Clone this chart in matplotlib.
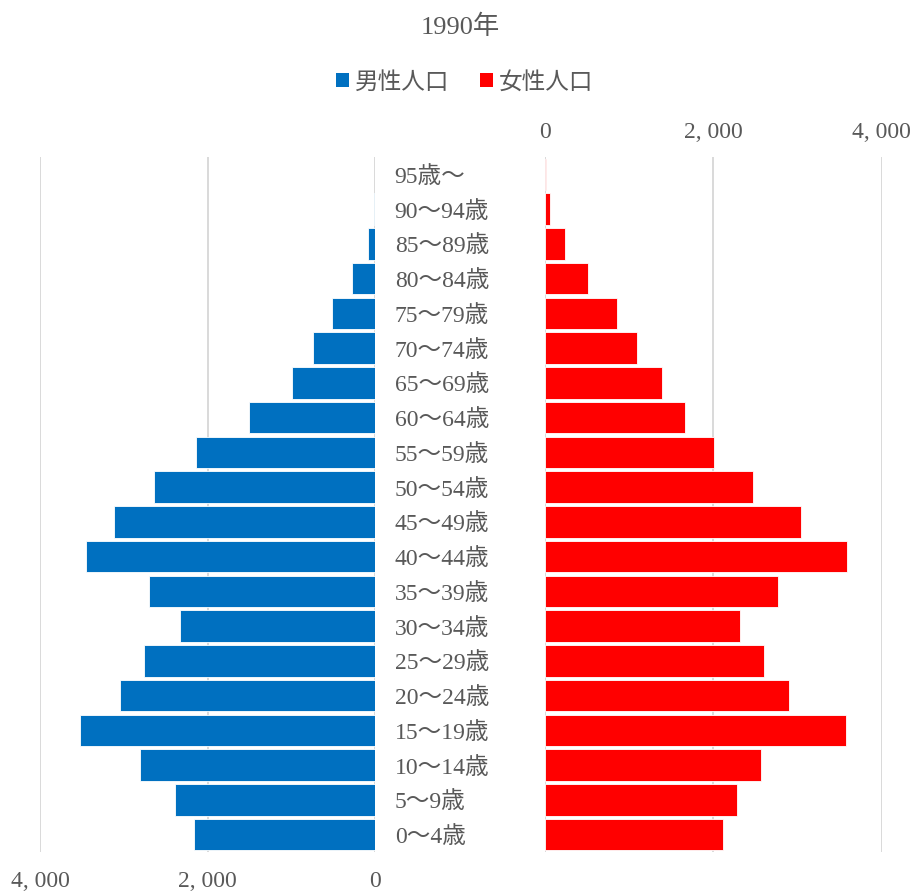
import matplotlib
matplotlib.use("Agg")
import matplotlib.pyplot as plt
from matplotlib.patches import Patch

plt.rcParams['font.family'] = ['Noto Sans CJK JP', 'DejaVu Sans']
SERIF = ['Liberation Serif', 'Noto Sans CJK JP', 'DejaVu Sans']

# Data (thousands of people), youngest first
age_groups = ["0～4歳", "5～9歳", "10～14歳", "15～19歳", "20～24歳", "25～29歳",
              "30～34歳", "35～39歳", "40～44歳", "45～49歳", "50～54歳", "55～59歳",
              "60～64歳", "65～69歳", "70～74歳", "75～79歳", "80～84歳", "85～89歳",
              "90～94歳", "95歳～"]
male = [2167, 2390, 2808, 3525, 3051, 2756, 2330, 2696, 3449, 3123, 2645, 2135,
        1509, 999, 741, 521, 275, 87, 12, 2]
female = [2111, 2281, 2566, 3576, 2899, 2602, 2317, 2772, 3584, 3038, 2471, 2004,
          1663, 1390, 1089, 855, 511, 234, 59, 8]
tick_vals = [0, 2000, 4000]
tick_labels = ["0", "2, 000", "4, 000"]
title = "1990年"
series_names = ["男性人口", "女性人口"]

blue = "#0070C0"
red = "#FF0000"
txt = "#595959"
grid = "#D9D9D9"

W, H = 916, 892
fig = plt.figure(figsize=(W / 100, H / 100), dpi=100)

top_px, bot_px = 157, 852
axL = fig.add_axes([40 / W, 1 - bot_px / H, (375.3 - 40) / W, (bot_px - top_px) / H])
axR = fig.add_axes([545 / W, 1 - bot_px / H, (881.7 - 545) / W, (bot_px - top_px) / H])

y = list(range(len(age_groups)))
axL.barh(y, male, height=0.9, color=blue, edgecolor="white", linewidth=0.6, zorder=3)
axR.barh(y, female, height=0.9, color=red, edgecolor="white", linewidth=0.6, zorder=3)

for ax in (axL, axR):
    ax.set_ylim(-0.5, len(age_groups) - 0.5)
    for s in ax.spines.values():
        s.set_visible(False)
    ax.set_xticks(tick_vals)
    ax.set_xticklabels(tick_labels, family=SERIF)
    ax.grid(axis="x", color=grid, linewidth=1.4, zorder=0)
    ax.tick_params(axis="x", length=0, labelsize=17, labelcolor=txt, pad=14)

axL.set_xlim(4000, 0)
axR.set_xlim(0, 4000)
axR.xaxis.tick_top()
axR.tick_params(axis="x", pad=10)
axR.set_yticks([])

axL.yaxis.tick_right()
axL.set_yticks(y)
axL.set_yticklabels(age_groups, family=SERIF)
axL.tick_params(axis="y", length=0, labelsize=17, labelcolor=txt, pad=14)
for lab in axL.get_yticklabels():
    lab.set_horizontalalignment("left")

fig.text(0.502, 1 - 27 / H, title, ha="center", va="center", fontsize=19,
         color=txt, family=SERIF)

handles = [Patch(facecolor=blue), Patch(facecolor=red)]
fig.legend(handles, series_names, loc="center", bbox_to_anchor=(0.507, 1 - 82 / H),
           ncol=2, frameon=False, fontsize=17, labelcolor=txt,
           handlelength=0.55, handleheight=0.55, handletextpad=0.25, columnspacing=1.3)

fig.savefig("out.png", dpi=100, facecolor="white")
